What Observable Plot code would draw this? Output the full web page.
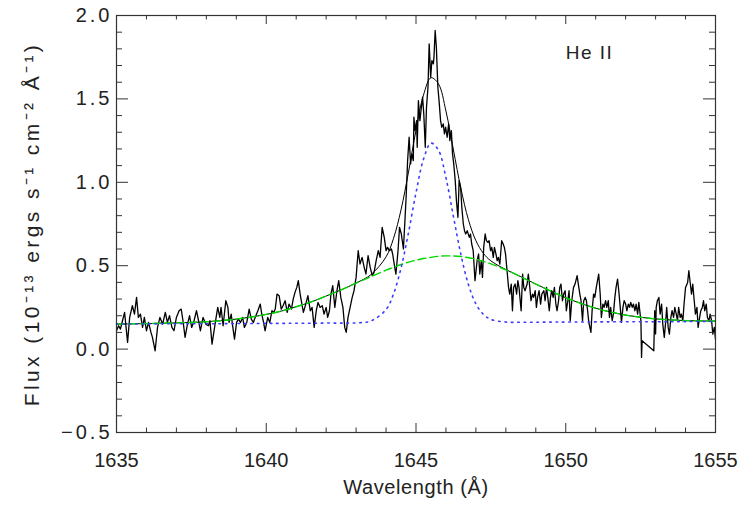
<!DOCTYPE html>
<html><head><meta charset="utf-8">
<script src="https://cdn.jsdelivr.net/npm/d3@7"></script>
<script src="https://cdn.jsdelivr.net/npm/@observablehq/plot@0.6"></script>
<style>html,body{margin:0;padding:0;background:#fff;overflow:hidden}</style>
</head><body><div id="chart"></div>
<script>
// Observed He II spectrum (wavelength in Å, flux in 1e-13 erg/s/cm2/Å)
const wavelength = [
1635.00,1635.07,1635.13,1635.20,1635.27,1635.37,1635.44,1635.53,1635.60,1635.67,1635.73,1635.80,1635.87,1635.93,
1636.00,1636.07,1636.15,1636.20,1636.29,1636.37,1636.45,1636.54,1636.63,1636.70,1636.77,1636.85,1636.92,
1637.00,1637.09,1637.16,1637.22,1637.29,1637.37,1637.44,1637.51,1637.59,1637.67,1637.74,1637.80,1637.89,1637.98,
1638.07,1638.12,1638.19,1638.24,1638.30,1638.38,1638.45,1638.49,1638.56,1638.65,1638.72,1638.76,1638.83,1638.87,1638.94,
1639.01,1639.07,1639.14,1639.21,1639.27,1639.35,1639.43,1639.50,1639.57,1639.63,1639.72,1639.80,1639.85,1639.91,1639.96,
1640.05,1640.12,1640.19,1640.25,1640.30,1640.36,1640.43,1640.50,1640.56,1640.63,1640.70,1640.76,1640.84,1640.90,1640.96,
1641.02,1641.07,1641.14,1641.18,1641.24,1641.32,1641.39,1641.47,1641.53,1641.60,1641.67,1641.73,1641.80,1641.87,1641.93,
1642.00,1642.05,1642.11,1642.16,1642.22,1642.29,1642.36,1642.42,1642.49,1642.56,1642.62,1642.67,1642.73,1642.80,1642.87,1642.93,
1643.00,1643.07,1643.13,1643.20,1643.27,1643.33,1643.40,1643.47,1643.54,1643.60,1643.67,1643.74,1643.80,1643.87,1643.94,
1644.00,1644.05,1644.11,1644.18,1644.22,1644.29,1644.33,1644.40,1644.45,1644.51,1644.58,1644.63,1644.67,1644.72,1644.77,1644.82,1644.86,1644.91,1644.93,1644.97,
1645.02,1645.04,1645.08,1645.13,1645.18,1645.22,1645.26,1645.31,1645.35,1645.40,1645.44,1645.49,1645.53,1645.58,1645.60,1645.64,1645.68,1645.73,1645.77,1645.82,1645.86,1645.91,1645.95,1645.99,
1646.04,1646.09,1646.13,1646.18,1646.22,1646.26,1646.31,1646.35,1646.40,1646.44,1646.49,1646.53,1646.58,1646.62,1646.66,1646.71,1646.78,1646.82,1646.86,1646.91,1646.97,
1647.04,1647.09,1647.13,1647.18,1647.22,1647.26,1647.31,1647.35,1647.40,1647.44,1647.49,1647.53,1647.58,1647.62,1647.67,1647.71,1647.75,1647.80,1647.86,1647.91,1647.95,1647.99,
1648.04,1648.09,1648.13,1648.18,1648.22,1648.26,1648.31,1648.36,1648.40,1648.44,1648.51,1648.56,1648.60,1648.64,1648.71,1648.75,1648.80,1648.84,1648.89,1648.93,1648.98,
1649.02,1649.06,1649.11,1649.16,1649.20,1649.27,1649.31,1649.36,1649.40,1649.45,1649.49,1649.53,1649.58,1649.62,1649.67,1649.71,1649.76,1649.80,1649.84,1649.89,1649.93,1649.98,
1650.02,1650.07,1650.11,1650.15,1650.20,1650.26,1650.31,1650.38,1650.42,1650.47,1650.51,1650.56,1650.60,1650.65,1650.69,1650.73,1650.77,1650.84,1650.88,1650.93,1650.97,
1651.02,1651.06,1651.10,1651.15,1651.19,1651.24,1651.28,1651.33,1651.37,1651.42,1651.46,1651.50,1651.55,1651.59,1651.64,1651.68,1651.73,1651.77,1651.82,1651.86,1651.91,1651.95,
1652.00,1652.04,1652.09,1652.13,1652.17,1652.22,1652.26,1652.31,1652.35,1652.40,1652.44,1652.49,1652.51,1652.53,1652.55,1652.94,1652.97,
1653.00,1653.02,1653.06,1653.11,1653.15,1653.20,1653.24,1653.29,1653.33,1653.37,1653.42,1653.46,1653.51,1653.55,1653.60,1653.64,1653.69,1653.73,1653.77,1653.82,1653.86,1653.91,1653.95,
1654.00,1654.07,1654.11,1654.16,1654.20,1654.24,1654.29,1654.33,1654.38,1654.42,1654.47,1654.51,1654.56,1654.60,1654.64,1654.69,1654.73,1654.78,1654.82,1654.87,1654.91,1654.96,1655.00
];
const flux = [
0.11,0.14,0.12,0.17,0.22,0.04,0.19,0.26,0.21,0.31,0.19,0.21,0.13,0.19,
0.11,0.16,0.10,0.07,-0.01,0.13,0.19,0.15,0.22,0.16,0.20,0.13,0.11,
0.19,0.23,0.24,0.17,0.07,0.15,0.20,0.13,0.17,0.23,0.17,0.11,0.19,0.15,
0.14,0.17,0.03,0.09,0.16,0.25,0.19,0.25,0.14,0.29,0.25,0.16,0.21,0.15,0.06,
0.16,0.18,0.16,0.19,0.13,0.16,0.24,0.18,0.16,0.19,0.23,0.27,0.21,0.16,0.11,
0.19,0.16,0.23,0.22,0.24,0.33,0.32,0.24,0.26,0.29,0.22,0.27,0.24,0.30,0.34,
0.37,0.41,0.32,0.28,0.22,0.27,0.32,0.23,0.25,0.13,0.23,0.28,0.25,0.26,0.21,
0.25,0.19,0.23,0.33,0.38,0.25,0.35,0.41,0.31,0.25,0.13,0.10,0.19,0.25,0.31,0.35,
0.43,0.59,0.51,0.55,0.49,0.45,0.56,0.49,0.44,0.46,0.53,0.59,0.55,0.73,0.67,
0.59,0.61,0.59,0.60,0.57,0.49,0.45,0.59,0.73,0.69,0.60,0.77,0.91,1.13,1.27,1.11,1.17,1.13,1.39,1.31,
1.37,1.21,1.49,1.37,1.45,1.51,1.41,1.21,1.45,1.57,1.83,1.63,1.73,1.71,1.75,1.91,1.81,1.57,1.49,1.37,1.33,1.35,1.29,1.33,
1.27,1.35,1.25,1.31,1.17,1.11,1.01,0.89,0.79,1.01,0.97,0.85,0.75,0.71,0.69,0.71,0.67,0.69,0.63,0.59,0.41,
0.53,0.57,0.45,0.53,0.43,0.61,0.69,0.65,0.64,0.65,0.59,0.61,0.55,0.61,0.57,0.53,0.55,0.51,0.65,0.63,0.61,0.57,
0.47,0.37,0.33,0.39,0.23,0.37,0.39,0.33,0.41,0.37,0.23,0.45,0.37,0.35,0.39,0.45,0.37,0.29,0.33,0.31,0.35,
0.25,0.31,0.35,0.27,0.33,0.35,0.29,0.37,0.31,0.23,0.31,0.35,0.31,0.37,0.27,0.23,0.29,0.37,0.39,0.29,0.33,0.35,
0.23,0.29,0.35,0.17,0.29,0.37,0.39,0.44,0.39,0.33,0.29,0.17,0.29,0.31,0.29,0.23,0.16,0.10,0.23,0.33,0.31,
0.37,0.41,0.45,0.33,0.19,0.27,0.25,0.29,0.25,0.29,0.19,0.25,0.17,0.21,0.31,0.37,0.42,0.35,0.25,0.16,0.25,0.29,
0.27,0.23,0.27,0.25,0.28,0.25,0.27,0.23,0.27,0.21,0.28,0.20,0.17,-0.05,0.05,-0.01,0.23,
0.09,0.25,0.29,0.31,0.21,0.27,0.15,0.07,0.15,0.25,0.13,0.09,0.19,0.23,0.19,0.25,0.21,0.17,0.25,0.19,0.21,0.17,0.27,
0.37,0.40,0.47,0.39,0.33,0.39,0.29,0.21,0.25,0.13,0.19,0.23,0.25,0.29,0.23,0.27,0.19,0.17,0.21,0.17,0.09,0.13,0.06
];

// Fitted model curves
const modelWave = [1635,1636,1637,1638,1639,1640,1640.5,1641,1641.5,1642,1642.5,1643,1643.5,1644,1644.25,1644.5,1644.75,1645,1645.25,1645.5,1645.75,1646,1646.25,1646.5,1646.75,1647,1647.25,1647.5,1648,1648.5,1649,1649.5,1650,1651,1652,1653,1654,1655];
const modelTotal = [0.150,0.153,0.157,0.164,0.180,0.208,0.228,0.254,0.283,0.318,0.355,0.396,0.447,0.553,0.664,0.835,1.062,1.312,1.523,1.627,1.590,1.427,1.194,0.962,0.776,0.650,0.574,0.529,0.477,0.434,0.390,0.348,0.308,0.245,0.204,0.181,0.171,0.168];
const modelBroad = [0.150,0.153,0.157,0.164,0.180,0.208,0.228,0.254,0.283,0.318,0.355,0.395,0.435,0.473,0.490,0.507,0.521,0.533,0.543,0.550,0.556,0.559,0.558,0.555,0.548,0.539,0.526,0.511,0.475,0.434,0.390,0.348,0.308,0.245,0.204,0.181,0.171,0.168];
const modelNarrow = [0.150,0.151,0.152,0.152,0.153,0.154,0.154,0.155,0.155,0.156,0.156,0.157,0.169,0.237,0.331,0.486,0.699,0.937,1.138,1.235,1.193,1.027,0.795,0.566,0.387,0.271,0.208,0.178,0.162,0.161,0.161,0.162,0.162,0.163,0.164,0.164,0.165,0.166];

// Axes
const xMajorTicks = [1635,1640,1645,1650,1655];
const xTickLabels = ["1635","1640","1645","1650","1655"];
const xMinorTicks = [1636,1637,1638,1639,1641,1642,1643,1644,1646,1647,1648,1649,1651,1652,1653,1654];
const yMajorTicks = [-0.5,0,0.5,1,1.5,2];
const yTickLabels = ["\u22120.5","0.0","0.5","1.0","1.5","2.0"];
const yMinorTicks = [-0.4,-0.3,-0.2,-0.1,0.1,0.2,0.3,0.4,0.6,0.7,0.8,0.9,1.1,1.2,1.3,1.4,1.6,1.7,1.8,1.9];
const xTitle = "Wavelength (Å)";
const yTitle = "Flux (10\u207B\u00B9\u00B3 ergs s\u207B\u00B9 cm\u207B\u00B2 Å\u207B\u00B9)";
const annotation = {label: "He II", wavelength: 1650.0, flux: 1.775};

const W = 745, H = 510, ML = 116, MR = 30, MT = 15, MB = 78;
const innerW = W - ML - MR, innerH = H - MT - MB;
const spectrum = wavelength.map((w, i) => ({w, f: flux[i]}));
const model = modelWave.map((w, i) => ({w, total: modelTotal[i], broad: modelBroad[i], narrow: modelNarrow[i]}));
const axisColor = "#333";
const font = "'Liberation Sans', Arial, sans-serif";
const yMaj = 12, yMin = 6, xMaj = 9, xMin = 4.5;

const chart = Plot.plot({
  width: W, height: H,
  marginLeft: ML, marginRight: MR, marginTop: MT, marginBottom: MB,
  x: {domain: [1635, 1655]},
  y: {domain: [-0.5, 2.0]},
  style: {fontFamily: font, background: "#fff", color: "#222", overflow: "visible"},
  marks: [
    Plot.line(spectrum, {x: "w", y: "f", stroke: "#000", strokeWidth: 1.3}),
    Plot.line(model, {x: "w", y: "total", stroke: "#000", strokeWidth: 1, curve: "catmull-rom"}),
    Plot.line(model, {x: "w", y: "broad", stroke: "#00d800", strokeWidth: 1.4, strokeDasharray: "8,4", curve: "catmull-rom"}),
    Plot.line(model, {x: "w", y: "narrow", stroke: "#3d3dff", strokeWidth: 1.6, strokeDasharray: "1.6,4.8", curve: "catmull-rom"}),
    // inward ticks on all four sides
    Plot.tickY(yMajorTicks, {y: d => d, insetRight: innerW - yMaj, stroke: axisColor}),
    Plot.tickY(yMinorTicks, {y: d => d, insetRight: innerW - yMin, stroke: axisColor}),
    Plot.tickY(yMajorTicks, {y: d => d, insetLeft: innerW - yMaj, stroke: axisColor}),
    Plot.tickY(yMinorTicks, {y: d => d, insetLeft: innerW - yMin, stroke: axisColor}),
    Plot.tickX(xMajorTicks, {x: d => d, insetTop: innerH - xMaj, stroke: axisColor}),
    Plot.tickX(xMinorTicks, {x: d => d, insetTop: innerH - xMin, stroke: axisColor}),
    Plot.tickX(xMajorTicks, {x: d => d, insetBottom: innerH - xMaj, stroke: axisColor}),
    Plot.tickX(xMinorTicks, {x: d => d, insetBottom: innerH - xMin, stroke: axisColor}),
    Plot.frame({stroke: axisColor, strokeWidth: 1.2}),
    Plot.axisX({ticks: xMajorTicks, tickFormat: d => xTickLabels[xMajorTicks.indexOf(d)], tickSize: 0, tickPadding: 20, fontSize: 20, label: null}),
    Plot.axisY({ticks: yMajorTicks, tickFormat: d => yTickLabels[yMajorTicks.indexOf(d)], tickSize: 0, tickPadding: 4, fontSize: 20, label: null}),
    Plot.text([xTitle], {frameAnchor: "bottom", dy: 61, fontSize: 20, text: d => d}),
    Plot.text([yTitle], {frameAnchor: "left", textAnchor: "middle", dx: -84, rotate: -90, fontSize: 21, text: d => d}),
    Plot.text([annotation], {x: "wavelength", y: "flux", text: "label", textAnchor: "start", fontSize: 19})
  ]
});
// typographic spacing to match the wide plotting font of the original
d3.select(chart).selectAll("text").each(function() {
  const t = this.textContent;
  if (t === yTitle) this.setAttribute("letter-spacing", "3.4");
  else if (yTickLabels.includes(t)) this.setAttribute("letter-spacing", "3");
  else if (t === xTitle) this.setAttribute("letter-spacing", "0.6");
  else if (t === annotation.label) this.setAttribute("letter-spacing", "1.5");
});
document.getElementById("chart").appendChild(chart);
</script>
</body></html>
